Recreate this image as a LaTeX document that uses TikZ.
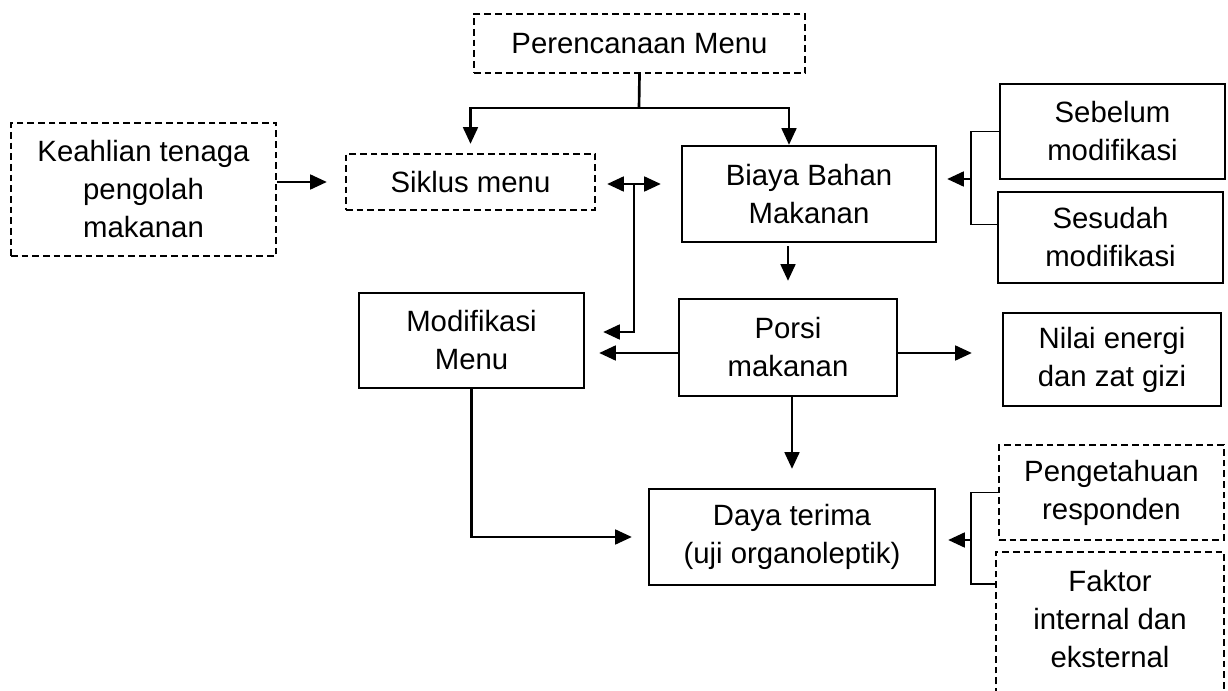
\documentclass[tikz,border=0pt]{standalone}
\usepackage{fontspec}
\setmainfont{Liberation Sans}
\usetikzlibrary{arrows.meta,calc}
\begin{document}
\begin{tikzpicture}[x=0.75pt,y=-0.75pt,
  txt/.style={font=\fontsize{22}{28.5}\selectfont},
  box/.style={draw, line width=1.7pt, rectangle, inner sep=0pt, align=center, txt},
  dbox/.style={box, line width=1.7pt, dash pattern=on 5pt off 3pt},
  sz/.style 2 args={minimum width=#1*0.75pt, minimum height=#2*0.75pt},
  ln/.style={line width=2pt},
  thinln/.style={line width=1.3pt},
  dashln/.style={line width=1.7pt, dash pattern=on 5pt off 3pt},
  arr/.style={line width=2pt, -{Triangle[length=12.5pt,width=11pt]}},
  arrboth/.style={line width=2pt, {Triangle[length=12.5pt,width=11pt]}-{Triangle[length=12.5pt,width=11pt]}}
]
\useasboundingbox (0,0) rectangle (1228,691);
\fill[white] (0,0) rectangle (1228,691);
\clip (0,0) rectangle (1228,691);

% nodes
\node[dbox, sz={331}{59}] (per) at (639.5,43.5) {Perencanaan Menu};
\node[dbox, sz={265}{133}] (keah) at (143.5,189.5) {Keahlian tenaga\\pengolah\\makanan};
\node[dbox, sz={249}{56}] (sik) at (470.5,182) {Siklus menu};
\node[box, sz={254}{96}] (biaya) at (809,194) {Biaya Bahan\\Makanan};
\node[box, sz={225}{95}] (seb) at (1112.5,131.5) {Sebelum\\modifikasi};
\node[box, sz={225}{91}] (ses) at (1110.5,237.5) {Sesudah\\modifikasi};
\node[box, sz={225}{95}] (mod) at (471.5,340.5) {Modifikasi\\Menu};
\node[box, sz={218}{97}] (porsi) at (788,347.5) {Porsi\\makanan};
\node[box, sz={218}{93}] (nilai) at (1112,359.5) {Nilai energi\\dan zat gizi};
\node[box, sz={286}{96}] (daya) at (792,537) {Daya terima\\(uji organoleptik)};
\node[dbox, sz={225}{95}] (peng) at (1111.5,492.5) {Pengetahuan\\responden};
\node[box, draw=none, sz={226}{132}] (fak) at (1110,619) {Faktor\\internal dan\\eksternal};
\draw[dashln] ($(fak.south west)+(0,30)$) -- (fak.north west) -- (fak.north east) -- ($(fak.south east)+(0,30)$);

% connectors
\coordinate (split) at (639,108);
\draw[ln] (per.south) -- (split);
\draw[arr, shorten >=6.75pt] (split) -| (sik.north);
\draw[arr] (split) -| ($(biaya.north)+(-20,0)$);

\draw[arr, shorten >=13.5pt] (keah.east |- sik.west) -- (sik.west);

\coordinate (s1) at ($(sik.east)+(0,2)$);
\draw[arrboth, shorten <=8.25pt, shorten >=15pt] (s1) -- (s1 -| biaya.west);
\coordinate (jn) at (634,184);
\coordinate (m1) at (634,332);
\draw[arr, shorten >=13.5pt] (jn) -- (m1) -- (m1 -| mod.east);

\coordinate (pw) at ($(porsi.west)+(0,5.5)$);
\coordinate (pe) at ($(porsi.east)+(0,5.5)$);
\draw[arr, shorten >=10.5pt] (pw) -- (pw -| mod.east);
\draw[arr, shorten >=22.5pt] (pe) -- (pe -| nilai.west);
\draw[arr, shorten >=14.25pt] (daya.north |- porsi.south) -- (daya.north);
\draw[arr, shorten <=2.25pt, shorten >=12.75pt] (porsi.north |- biaya.south) -- (porsi.north);
\draw[arr, shorten >=12pt] (mod.south) |- (daya.west);

\coordinate (b1) at (971,179);
\draw[thinln] (seb.west) -| (b1) |- ($(ses.west)+(0,-13)$);
\draw[arr, shorten >=7.5pt] (b1) -- (b1 -| biaya.east);

\coordinate (b2) at (971,540);
\draw[thinln] (peng.west) -| (b2) |- ($(fak.north west)+(0,32)$);
\draw[arr, shorten >=9pt] (b2) -- (b2 -| daya.east);
\end{tikzpicture}
\end{document}
